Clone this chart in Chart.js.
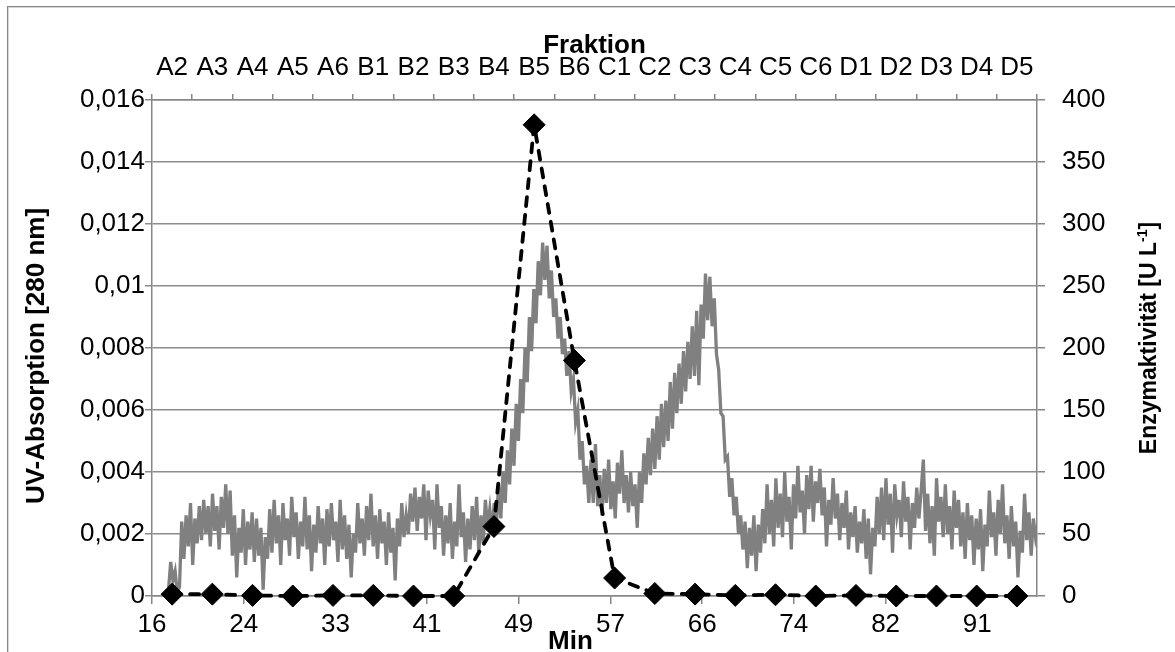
<!DOCTYPE html>
<html><head><meta charset="utf-8">
<script src="https://cdn.jsdelivr.net/npm/chart.js@4"></script>
<style>
html,body{margin:0;padding:0;background:#fff;overflow:hidden;width:1175px;height:652px;}
#frame{position:absolute;left:7px;top:6px;width:1400px;height:900px;border:1px solid #868686;box-shadow:inset 1px 1px 0 #d6d6d6;}
#c{position:absolute;left:0;top:0;}
</style></head><body>
<div id="frame"></div>
<canvas id="c" width="1175" height="652"></canvas>
<script>
// ---- Data ----
const fractions = ['A2','A3','A4','A5','A6','B1','B2','B3','B4','B5','B6','C1','C2','C3','C4','C5','C6','D1','D2','D3','D4','D5'];
const enzymeActivity = [1.5,1.5,0.5,0,0.5,0.5,0,0,56,380,190,14.5,2,1.5,0.5,1,0,0.5,0,0,0,0]; // U/L

const uvStartMin = 17.5;   // first sample time [min]
const uvStepMin = 0.2;     // sampling interval [min]
const uvAbsorbance_mAU = [
0.2,1.1,0.5,0.8,0.1,0.3,2.4,1.2,2.6,1.6,
3.0,1.0,2.5,1.7,2.9,1.8,3.1,2.0,2.9,1.6,
3.3,2.1,2.9,1.5,3.2,2.2,3.6,2.0,3.4,1.3,
2.6,0.6,2.2,1.4,2.8,1.0,2.4,1.5,2.7,1.1,
2.5,1.3,2.2,0.2,1.9,1.2,2.8,1.4,3.1,1.7,
2.6,1.0,3.0,1.8,2.5,1.3,3.2,1.9,2.7,1.2,
2.4,1.6,3.2,1.5,2.6,0.8,2.3,1.4,2.9,1.7,
2.5,1.0,2.8,1.6,3.0,1.8,2.4,1.1,3.1,1.5,
2.6,1.2,2.3,0.6,2.0,1.4,3.0,1.7,2.5,1.3,
2.9,1.8,3.3,1.6,2.6,1.2,2.8,1.7,2.4,1.0,
2.7,1.4,2.2,0.5,2.5,1.6,3.0,1.9,2.6,2.0,
3.3,2.4,3.5,2.1,3.2,2.5,3.6,1.8,3.4,2.6,
3.1,1.5,3.6,2.2,2.9,1.3,2.6,1.7,3.0,1.2,
2.4,1.6,3.6,1.9,2.7,1.1,2.5,1.5,2.9,1.8,
3.2,1.4,2.6,1.7,3.1,2.2,2.8,2.0,3.0,2.3,
3.6,2.5,4.0,3.0,4.7,3.6,5.4,4.2,6.2,5.0,
7.0,5.9,8.0,6.9,9.0,7.9,9.9,8.8,10.8,9.7,
11.4,10.2,11.3,9.6,10.5,9.0,9.6,8.3,9.0,7.8,
8.3,7.1,7.9,6.6,7.0,5.6,6.0,4.4,5.0,3.6,
4.2,3.0,4.4,3.0,4.9,2.9,3.9,2.6,4.1,3.0,
4.4,2.8,3.7,2.5,4.3,3.3,4.7,3.0,3.9,2.7,
4.0,2.9,3.6,2.2,4.0,3.0,4.6,3.6,5.1,3.9,
5.4,4.1,5.8,4.4,6.2,4.8,6.3,5.0,6.9,5.4,
7.2,5.9,7.5,6.2,7.9,6.6,8.2,7.0,8.7,7.1,
9.2,6.8,9.4,8.3,10.4,8.9,10.3,8.7,9.6,7.8,
7.3,5.9,5.8,4.4,4.5,3.2,3.8,2.6,3.2,2.0,
2.6,1.5,2.4,0.9,2.2,1.3,2.6,0.8,2.3,1.4,
2.8,1.7,3.6,2.0,3.1,1.6,3.8,2.2,3.3,1.9,
4.0,2.4,3.2,1.5,3.6,2.5,4.2,2.7,3.4,2.0,
3.9,2.8,4.2,2.4,3.7,3.0,4.1,2.6,3.5,1.6,
3.1,2.3,3.8,2.5,3.3,1.8,3.0,2.2,3.4,1.5,
2.7,1.9,2.9,1.4,2.4,1.7,2.8,1.2,2.5,0.7,
2.2,1.6,3.2,2.0,3.5,1.8,3.8,2.3,3.3,1.4,
3.6,2.6,3.1,1.9,3.7,2.4,3.2,1.5,3.0,2.2,
3.5,2.5,3.4,4.4,2.1,3.3,1.7,2.9,1.3,3.8,
2.4,3.2,1.9,3.6,2.0,2.9,1.5,3.4,2.2,3.1,
1.6,2.7,1.2,3.0,1.8,2.6,1.0,2.5,1.5,2.8,
0.8,2.3,1.6,3.4,1.9,2.7,1.3,3.1,2.0,3.6,
1.7,2.6,1.2,2.9,1.6,2.4,0.6,2.1,1.4,3.3,
1.8,2.7,1.3,2.5,1.9,2.3
];

const minAxisMin = 16, minAxisMax = 96.43;
const minTickValues = [16,24.33,32.67,41,49.33,57.67,66,74.33,82.67,91];
const minTickLabels = ['16','24','33','41','49','57','66','74','82','91'];
const uvTickValues = [0,0.002,0.004,0.006,0.008,0.010,0.012,0.014,0.016];
const uvTickLabels = ['0','0,002','0,004','0,006','0,008','0,01','0,012','0,014','0,016'];
const enzymeTickValues = [0,50,100,150,200,250,300,350,400];
const enzymeTickLabels = ['0','50','100','150','200','250','300','350','400'];

// ---- build dataset points ----
const uvPoints = uvAbsorbance_mAU.map((v, i) => ({ x: uvStartMin + i * uvStepMin, y: v / 1000 }));

const FONT = '"Liberation Sans", Arial, sans-serif';
Chart.defaults.font.family = FONT;
Chart.defaults.font.size = 26;
Chart.defaults.color = '#000';

const AXIS = '#868686';
const GRID = '#8c8c8c';

const titlePlugin = {
  id: 'customTitles',
  afterDraw(chart) {
    const ctx = chart.ctx, ca = chart.chartArea;
    const cy = (ca.top + ca.bottom) / 2;
    ctx.save();
    ctx.fillStyle = '#000';
    ctx.textBaseline = 'middle';
    ctx.textAlign = 'center';
    // left title
    ctx.save();
    ctx.font = 'bold 26px ' + FONT;
    ctx.translate(37, cy + 8);
    ctx.rotate(-Math.PI / 2);
    ctx.fillText('UV-Absorption [280 nm]', 0, 0);
    ctx.restore();
    // bottom title
    ctx.font = 'bold 26px ' + FONT;
    ctx.fillText('Min', (ca.left + ca.right) / 2 - 24, 642);
    // right title with superscript
    ctx.save();
    ctx.translate(1150, cy - 10);
    ctx.rotate(-Math.PI / 2);
    ctx.textAlign = 'left';
    const big = 'bold 23px ' + FONT, small = 'bold 14px ' + FONT;
    const p1 = 'Enzymaktivität [U L', p2 = '-1', p3 = ']';
    ctx.font = big; const w1 = ctx.measureText(p1).width, w3 = ctx.measureText(p3).width;
    ctx.font = small; const w2 = ctx.measureText(p2).width;
    let x0 = -(w1 + w2 + w3) / 2;
    ctx.font = big; ctx.fillText(p1, x0, 0);
    ctx.font = small; ctx.fillText(p2, x0 + w1, -7);
    ctx.font = big; ctx.fillText(p3, x0 + w1 + w2, 0);
    ctx.restore();
    ctx.restore();
  }
};

new Chart(document.getElementById('c'), {
  type: 'line',
  data: {
    datasets: [
      {
        label: 'Enzymaktivität',
        data: enzymeActivity,
        xAxisID: 'x2', yAxisID: 'y2',
        borderColor: '#000', borderWidth: 3.8,
        borderDash: [9, 9], borderCapStyle: 'round',
        pointStyle: 'rectRot', pointRadius: 11,
        pointBackgroundColor: '#000', pointBorderColor: '#000', pointBorderWidth: 1,
        tension: 0, order: 0, clip: false
      },
      {
        label: 'UV-Absorption',
        data: uvPoints,
        xAxisID: 'x', yAxisID: 'y',
        borderColor: '#808080', borderWidth: 3.3,
        pointRadius: 0, tension: 0, order: 1
      }
    ]
  },
  options: {
    responsive: false, animation: false, devicePixelRatio: 1,
    layout: { padding: 0 },
    plugins: { legend: { display: false }, tooltip: { enabled: false } },
    scales: {
      x: {
        type: 'linear', position: 'bottom', min: minAxisMin, max: minAxisMax,
        afterBuildTicks: s => { s.ticks = minTickValues.map(v => ({ value: v })); },
        ticks: { callback: (v, i) => minTickLabels[i], padding: 5, maxRotation: 0, autoSkip: false },
        grid: { drawOnChartArea: false, drawTicks: true, tickLength: 8, color: AXIS, lineWidth: 1.5 },
        border: { display: true, color: AXIS, width: 1.5 },
        afterFit: s => { s.height = 56; }
      },
      x2: {
        type: 'category', position: 'top', labels: fractions, offset: true,
        ticks: { padding: 11, autoSkip: false, maxRotation: 0 },
        grid: { offset: true, drawOnChartArea: false, drawTicks: true, tickLength: 6, color: AXIS, lineWidth: 1.5 },
        border: { display: true, color: AXIS, width: 1.5 },
        title: { display: true, text: 'Fraktion', font: { size: 26, weight: 'bold' }, padding: { top: 30, bottom: 0 } },
        afterFit: s => { s.height = 100; }
      },
      y: {
        type: 'linear', position: 'left', min: 0, max: 0.016,
        afterBuildTicks: s => { s.ticks = uvTickValues.map(v => ({ value: v })); },
        ticks: { callback: (v, i) => uvTickLabels[i], padding: 0 },
        grid: { color: GRID, lineWidth: 1.5, tickLength: 7 },
        border: { display: true, color: AXIS, width: 1.5 },
        afterFit: s => { s.width = 152; }
      },
      y2: {
        type: 'linear', position: 'right', min: 0, max: 400,
        afterBuildTicks: s => { s.ticks = enzymeTickValues.map(v => ({ value: v })); },
        ticks: { callback: (v, i) => enzymeTickLabels[i], padding: 17 },
        grid: { drawOnChartArea: false, tickLength: 8, color: AXIS, lineWidth: 1.5 },
        border: { display: true, color: AXIS, width: 1.5 },
        afterFit: s => { s.width = 138; }
      }
    }
  },
  plugins: [titlePlugin]
});
</script>
</body></html>
